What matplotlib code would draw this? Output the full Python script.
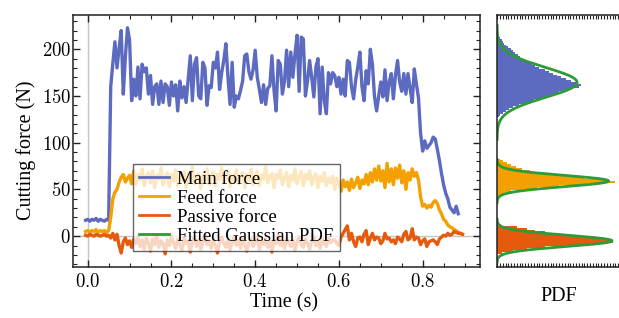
import numpy as np
import matplotlib
matplotlib.use("Agg")
import matplotlib.pyplot as plt
from matplotlib.ticker import MultipleLocator, FuncFormatter, NullLocator

plt.rcParams['mathtext.fontset'] = 'cm'
plt.rcParams['font.family'] = ['Liberation Serif', 'DejaVu Serif']

# ---------------- data ----------------
T0 = -0.005
DT = 0.005

main_force = [17,
    18, 16, 18, 17, 19, 16, 18, 17, 16, 18,
    17, 160, 185, 208, 180, 201, 220, 152, 192, 223,
    210, 145, 168, 150, 181, 147, 184, 176, 180, 152,
    172, 141, 160, 163, 141, 166, 143, 163, 160, 140,
    165, 150, 162, 134, 166, 148, 160, 143, 168, 193,
    145, 184, 191, 150, 147, 186, 180, 140, 161, 159,
    186, 180, 197, 157, 175, 188, 206, 170, 141, 186,
    138, 150, 147, 156, 166, 193, 195, 176, 168, 178,
    199, 170, 157, 143, 162, 141, 158, 161, 193, 156,
    134, 188, 184, 152, 166, 199, 160, 197, 170, 195,
    215, 155, 213, 211, 150, 166, 188, 170, 149, 181,
    190, 131, 181, 145, 131, 175, 163, 175, 172, 160,
    170, 152, 168, 150, 188, 186, 160, 147, 167, 181,
    197, 160, 145, 177, 163, 200, 184, 149, 134, 150,
    165, 149, 178, 145, 165, 174, 147, 172, 188, 165,
    155, 174, 152, 174, 158, 143, 179, 163, 148, 110,
    91, 102, 94, 97, 100, 106, 104, 93, 81, 67,
    55, 46, 40, 31, 28, 25, 32, 24]

feed_force = [5,
    6, 4, 6, 5, 7, 4, 6, 5, 6, 4,
    6, 20, 40, 47, 50, 58, 63, 66, 58, 62,
    65, 56, 70, 55, 66, 60, 72, 54, 64, 68,
    57, 70, 52, 65, 61, 73, 55, 63, 68, 53,
    66, 59, 71, 54, 64, 60, 69, 52, 66, 62,
    74, 56, 63, 67, 51, 65, 60, 72, 55, 64,
    69, 54, 66, 61, 73, 57, 63, 70, 53, 65,
    59, 71, 56, 64, 68, 52, 66, 60, 72, 55,
    63, 69, 54, 65, 61, 74, 57, 64, 67, 52,
    66, 62, 71, 55, 63, 68, 53, 65, 60, 72,
    56, 64, 69, 54, 66, 61, 70, 55, 63, 67,
    52, 64, 59, 68, 54, 62, 57, 64, 50, 62,
    57, 48, 60, 53, 58, 49, 61, 52, 57, 63,
    51, 60, 56, 66, 55, 68, 58, 72, 60, 75,
    59, 70, 52, 78, 58, 72, 55, 73, 62, 76,
    57, 70, 50, 68, 60, 72, 64, 68, 60, 42,
    32, 34, 30, 33, 31, 36, 38, 35, 28, 24,
    18, 16, 12, 10, 9, 7, 6, 4, 3, 2]

passive_force = [1,
    0, 2, 1, 0, 2, 1, 0, 1, 2, 0,
    1, -2, 3, -4, 2, -10, -18, -6, -2, -9,
    -5, -12, -3, -8, -1, -11, -4, -14, -2, -7,
    -16, -3, -9, 1, -12, -5, -8, -19, -4, -10,
    0, -7, -13, -3, -9, -15, -2, -8, -5, -17,
    -6, -1, -11, -4, -14, -7, 2, -9, -5, -13,
    -3, -10, -18, -6, -1, -8, -12, -4, -15, -7,
    0, -10, -5, -13, -2, -9, -16, -6, -3, -11,
    -7, -1, -14, -5, -9, -3, -12, -6, -17, -4,
    -8, 1, -10, -5, -13, -2, -7, -11, -4, -15,
    -6, -1, -9, -12, -3, -8, -14, -5, 0, -10,
    -6, -13, -3, -8, -11, -2, -7, -4, -4, -8,
    -10, -1, 3, 7, 11, -4, 3, -6, -11, -2,
    -1, -6, 2, 6, -9, -2, 3, -4, -1, -2,
    -8, -5, 3, -3, -2, -6, -4, -8, -1, -3,
    -6, 2, 5, -4, -2, 8, -4, -1, -2, -9,
    -5, -3, -11, -6, -5, -4, -6, -9, -3, -1,
    1, 0, 3, 1, 2, 5, 4, 3, 3, 2]

# histograms (bin centres in N, scaled PDF heights)
main_bins = [128, 130, 132, 134, 136, 138, 140, 142, 144, 146, 148,
             150, 152, 154, 156, 158, 160, 162, 164, 166, 168, 170,
             172, 174, 176, 178, 180, 182, 184, 186, 188, 190, 192,
             194, 196, 198, 200, 202, 204, 206, 208, 210, 212, 214]
main_pdf = [0.018, 0.027, 0.053, 0.08, 0.106, 0.142, 0.195, 0.239, 0.292, 0.327, 0.398,
            0.46, 0.504, 0.549, 0.619, 0.673, 0.726, 0.743, 0.699, 0.655, 0.611, 0.566,
            0.531, 0.496, 0.46, 0.425, 0.372, 0.336, 0.31, 0.274, 0.248, 0.23, 0.204,
            0.186, 0.16, 0.14, 0.12, 0.1, 0.082, 0.066, 0.052, 0.04, 0.03, 0.018]
feed_bins = [42, 44, 46, 48, 50, 52, 54, 56, 58, 60, 62,
             64, 66, 68, 70, 72, 74, 76, 78, 80, 82]
feed_pdf = [0.018, 0.035, 0.071, 0.124, 0.221, 0.354, 0.549, 0.796, 1.044, 0.973, 0.779,
            0.602, 0.469, 0.372, 0.292, 0.221, 0.168, 0.124, 0.088, 0.053, 0.027]
passive_bins = [-18, -16, -14, -12, -10, -8, -6, -4, -2, 0, 2, 4, 6, 8, 10, 12]
passive_pdf = [0.044, 0.142, 0.265, 0.425, 0.602, 0.814, 1.027, 1.009, 0.867, 0.708,
               0.549, 0.425, 0.336, 0.265, 0.177, 0.035]

# fitted Gaussians: (mean, sigma, scaled peak)
main_fit = (164.5, 16.0, 0.71)
feed_fit = (59.0, 6.0, 0.99)
passive_fit = (-5.0, 6.0, 1.02)

labels = ["Main force", "Feed force", "Passive force", "Fitted Gaussian PDF"]
c_main, c_feed, c_pass, c_fit = "#5C6BC0", "#F4A000", "#E65A0E", "#2E9A3A"

# ---------------- figure ----------------
fig = plt.figure(figsize=(6.19, 3.18), dpi=100)
ax = fig.add_axes([0.118, 0.1604, 0.6575, 0.7925])
axh = fig.add_axes([0.803, 0.1604, 0.2003, 0.7925], sharey=ax)

def tvec(v):
    return T0 + DT * np.arange(len(v))

LW = 2.4
ax.axhline(0, color="#c4c4c4", lw=1.0, zorder=0)
ax.axvline(0, color="#c4c4c4", lw=1.0, zorder=0)
ax.plot(tvec(main_force), main_force, color=c_main, lw=LW, label=labels[0])
ax.plot(tvec(feed_force), feed_force, color=c_feed, lw=LW, label=labels[1])
ax.plot(tvec(passive_force), passive_force, color=c_pass, lw=LW, label=labels[2])
ax.plot([], [], color=c_fit, lw=LW, label=labels[3])

ax.set_xlim(-0.035, 0.937)
ax.set_ylim(-33, 236.7)
ax.xaxis.set_major_locator(MultipleLocator(0.2))
ax.xaxis.set_minor_locator(MultipleLocator(0.05))
ax.yaxis.set_major_locator(MultipleLocator(50))
ax.yaxis.set_minor_locator(MultipleLocator(10))
ax.xaxis.set_major_formatter(FuncFormatter(lambda v, p: r"$%.1f$" % v))
ax.yaxis.set_major_formatter(FuncFormatter(lambda v, p: r"$%d$" % round(v)))
ax.tick_params(which="both", direction="in", top=True, right=True, color="#222222")
ax.tick_params(which="major", length=5, width=1.0, labelsize=13.5)
ax.tick_params(which="minor", length=3, width=0.8)
ax.tick_params(axis="x", pad=4)
ax.tick_params(axis="y", pad=1.5)
for s in ax.spines.values():
    s.set_color("#222222")
    s.set_linewidth(1.1)

ax.set_xlabel("Time (s)", fontsize=14.5, labelpad=2)
ax.set_ylabel("Cutting force (N)", fontsize=14.5, labelpad=4)
ax.xaxis.label.set_x(0.518)
ax.yaxis.label.set_y(0.464)

leg = ax.legend(loc="lower left", bbox_to_anchor=(0.147, 0.063), fontsize=13.5,
                frameon=True, fancybox=False, framealpha=0.75, edgecolor="#333333",
                handlelength=1.6, handletextpad=0.4, labelspacing=0.1,
                borderpad=0.35, borderaxespad=0.0)
leg.get_frame().set_linewidth(1.0)
for h in leg.get_lines():
    h.set_linewidth(2.0)

# histogram panel
for bins, pdf, col, step in ((main_bins, main_pdf, c_main, 2),
                             (feed_bins, feed_pdf, c_feed, 2),
                             (passive_bins, passive_pdf, c_pass, 2)):
    axh.barh(bins, pdf, height=step, color=col, edgecolor="none", linewidth=0)
for mu, sd, pk in (main_fit, feed_fit, passive_fit):
    yy = np.linspace(mu - 3.8 * sd, mu + 3.8 * sd, 200)
    axh.plot(pk * np.exp(-0.5 * ((yy - mu) / sd) ** 2), yy, color=c_fit, lw=2.0)

axh.set_xlim(0, 1.1)
axh.xaxis.set_major_locator(NullLocator())
axh.xaxis.set_minor_locator(MultipleLocator(0.025))
axh.tick_params(axis="x", which="minor", direction="in", top=True, bottom=True, length=3,
                width=0.8, color="#222222")
axh.tick_params(axis="y", which="both", left=False, right=False, labelleft=False)
for s in axh.spines.values():
    s.set_color("#222222")
    s.set_linewidth(1.1)
axh.set_xlabel("PDF", fontsize=14.5, labelpad=11)

fig.savefig("out.png", dpi=100)
